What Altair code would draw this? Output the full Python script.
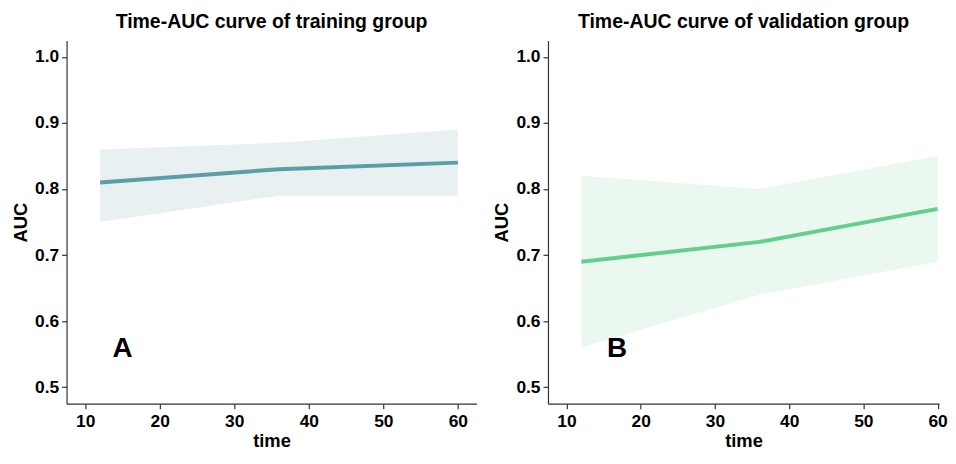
import altair as alt
import pandas as pd

times = [12, 36, 60]
train_auc = [0.81, 0.83, 0.84]
train_lower = [0.75, 0.79, 0.79]
train_upper = [0.86, 0.87, 0.89]
valid_auc = [0.69, 0.72, 0.77]
valid_lower = [0.56, 0.64, 0.69]
valid_upper = [0.82, 0.80, 0.85]

panel_titles = ["Time-AUC curve of training group", "Time-AUC curve of validation group"]
panel_letters = ["A", "B"]
letter_x = [15.0, 16.8]
letter_y = [0.557, 0.557]

x_ticks = [10, 20, 30, 40, 50, 60]
y_ticks = [0.5, 0.6, 0.7, 0.8, 0.9, 1.0]

FONT = "Liberation Sans"
PLOT_H = 366

def panel(auc, lo, hi, line_color, band_color, title, letter, lx, ly, xdomain, width):
    df = pd.DataFrame({"time": times, "AUC": auc, "lower": lo, "upper": hi})
    lab = pd.DataFrame({"time": [lx], "AUC": [ly], "label": [letter]})
    xs = alt.Scale(domain=xdomain, nice=False, zero=False)
    ys = alt.Scale(domain=[0.475, 1.025], nice=False, zero=False)
    xax = alt.Axis(values=x_ticks, format="d", grid=False)
    yax = alt.Axis(values=y_ticks, format=".1f", grid=False)
    band = alt.Chart(df).mark_area(color=band_color, opacity=1).encode(
        x=alt.X("time:Q", scale=xs, axis=xax, title="time"),
        y=alt.Y("lower:Q", scale=ys, axis=yax, title="AUC"),
        y2="upper:Q",
    )
    line = alt.Chart(df).mark_line(color=line_color, strokeWidth=4).encode(
        x=alt.X("time:Q", scale=xs),
        y=alt.Y("AUC:Q", scale=ys),
    )
    txt = alt.Chart(lab).mark_text(font=FONT, fontSize=28, fontWeight="bold", color="black").encode(
        x=alt.X("time:Q", scale=xs),
        y=alt.Y("AUC:Q", scale=ys),
        text="label:N",
    )
    return alt.layer(band, line, txt).properties(
        width=width, height=PLOT_H,
        title=alt.TitleParams(title, font=FONT, fontSize=19.6, fontWeight="bold", color="black",
                              anchor="middle", offset=8),
    )

left = panel(train_auc, train_lower, train_upper, "#5A9EA6", "#E8F0F2",
             panel_titles[0], panel_letters[0], letter_x[0], letter_y[0], [7.5, 62.5], 413)
right = panel(valid_auc, valid_lower, valid_upper, "#63CF8C", "#EAF8EF",
              panel_titles[1], panel_letters[1], letter_x[1], letter_y[1], [7.5, 60.2], 394)

chart = alt.hconcat(left, right, spacing=16).properties(
    padding={"left": 3, "top": 2, "right": 0, "bottom": 0}
).configure_view(stroke=None).configure_axis(
    labelFont=FONT, labelFontSize=17.5, labelFontWeight="bold", labelColor="black",
    titleFont=FONT, titleFontSize=18.5, titleFontWeight="bold", titleColor="black",
    domainColor="#333333", tickColor="#333333", domainWidth=1.2, tickWidth=1.2,
    tickSize=5, labelPadding=3,
).configure_axisY(titlePadding=4).configure_axisX(titlePadding=2, labelPadding=4)

chart.save("out.html", embed_options={"renderer": "svg", "actions": False})
